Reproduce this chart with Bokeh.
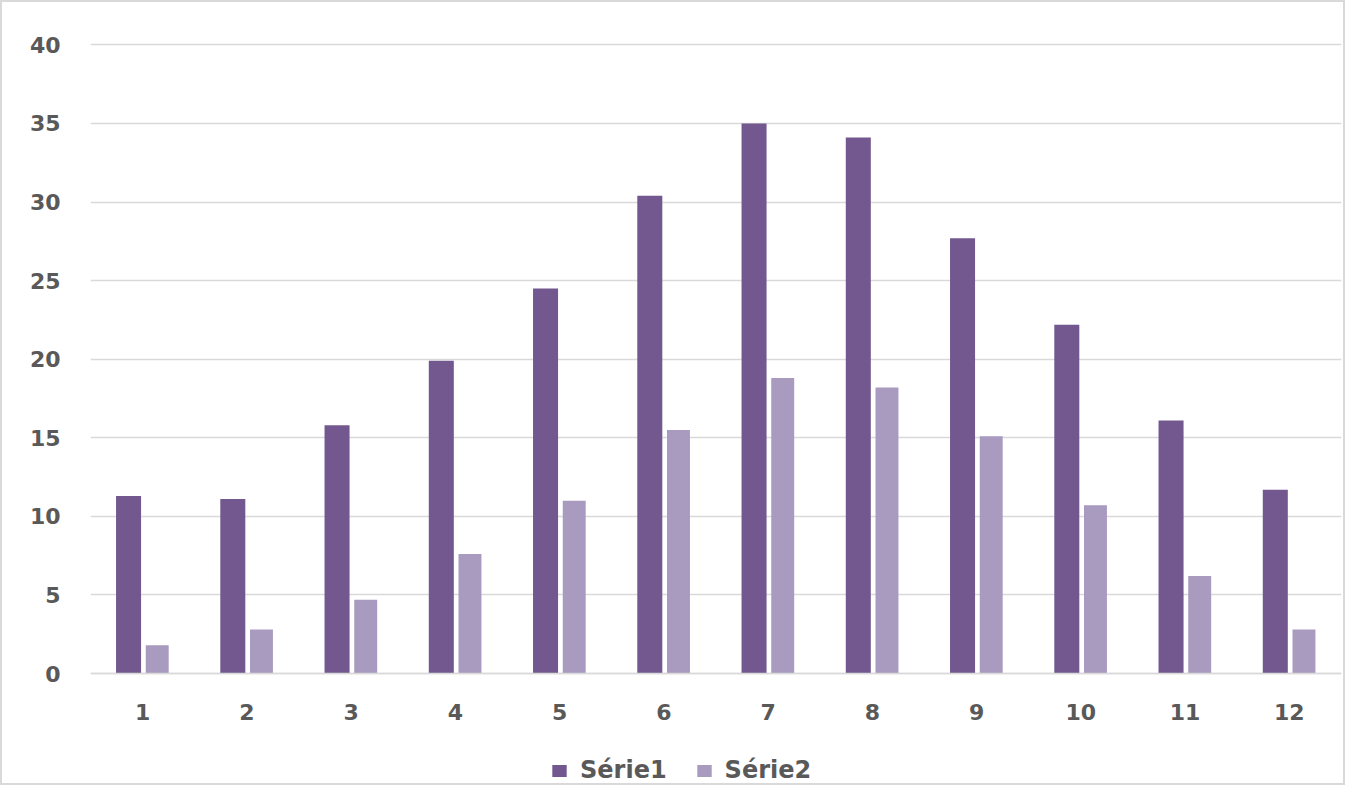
from bokeh.plotting import figure
from bokeh.models import Legend, LegendItem, FixedTicker, Range1d
from bokeh.transform import dodge
from bokeh.embed import file_html
from bokeh.resources import INLINE
from bokeh.models import ColumnDataSource

categories = [1, 2, 3, 4, 5, 6, 7, 8, 9, 10, 11, 12]
serie1 = [11.3, 11.1, 15.8, 19.9, 24.5, 30.4, 35.0, 34.1, 27.7, 22.2, 16.1, 11.7]
serie2 = [1.8, 2.8, 4.7, 7.6, 11.0, 15.5, 18.8, 18.2, 15.1, 10.7, 6.2, 2.8]
series_names = ["Série1", "Série2"]
y_ticks = [0, 5, 10, 15, 20, 25, 30, 35, 40]

C1 = "#72588E"
C2 = "#A99ABF"
TXT = "#595959"
GRID = "#D9D9D9"
FONT = "DejaVu Sans"

src = ColumnDataSource(dict(x=categories, s1=serie1, s2=serie2))

# frame spans below zero so the legend can sit inside it (under the x labels)
p = figure(width=1345, height=785, output_backend="svg", toolbar_location=None,
           x_range=Range1d(0.5, 12.5), y_range=Range1d(-7.25, 40.15),
           min_border_left=88, min_border_right=6, min_border_top=40, min_border_bottom=0)
p.styles = {"border": "2px solid #D9D9D9", "box-sizing": "border-box"}
p.outline_line_color = None
p.background_fill_color = "white"
p.border_fill_color = "white"

r1 = p.vbar(x=dodge("x", -0.135, range=p.x_range), top="s1", width=0.24, source=src,
            fill_color=C1, line_color=None)
r2 = p.vbar(x=dodge("x", 0.14, range=p.x_range), top="s2", width=0.22, source=src,
            fill_color=C2, line_color=None)

p.xgrid.grid_line_color = None
p.ygrid.grid_line_color = GRID
p.ygrid.grid_line_width = 1.5
p.ygrid.ticker = FixedTicker(ticks=y_ticks)

p.yaxis.ticker = FixedTicker(ticks=y_ticks)
p.xaxis.ticker = FixedTicker(ticks=categories)
p.xaxis.fixed_location = 0
for ax in (p.xaxis[0], p.yaxis[0]):
    ax.major_tick_line_color = None
    ax.minor_tick_line_color = None
    ax.major_label_text_color = TXT
    ax.major_label_text_font = FONT
    ax.major_label_text_font_style = "bold"
    ax.major_label_text_font_size = "22px"
p.yaxis.axis_line_color = None
p.yaxis.major_label_standoff = 24
p.xaxis.axis_line_color = GRID
p.xaxis.axis_line_width = 1.5
p.xaxis.major_label_standoff = 24

legend = Legend(items=[LegendItem(label=series_names[0], renderers=[r1]),
                       LegendItem(label=series_names[1], renderers=[r2])],
                orientation="horizontal", location=(460, 3),
                label_text_font=FONT, label_text_font_style="bold",
                label_text_font_size="24px", label_text_color=TXT,
                glyph_width=18, glyph_height=15, label_standoff=12, spacing=28,
                border_line_color=None, background_fill_alpha=0, margin=0, padding=2)
p.add_layout(legend, "center")

open("out.html", "w").write(file_html(p, INLINE))
